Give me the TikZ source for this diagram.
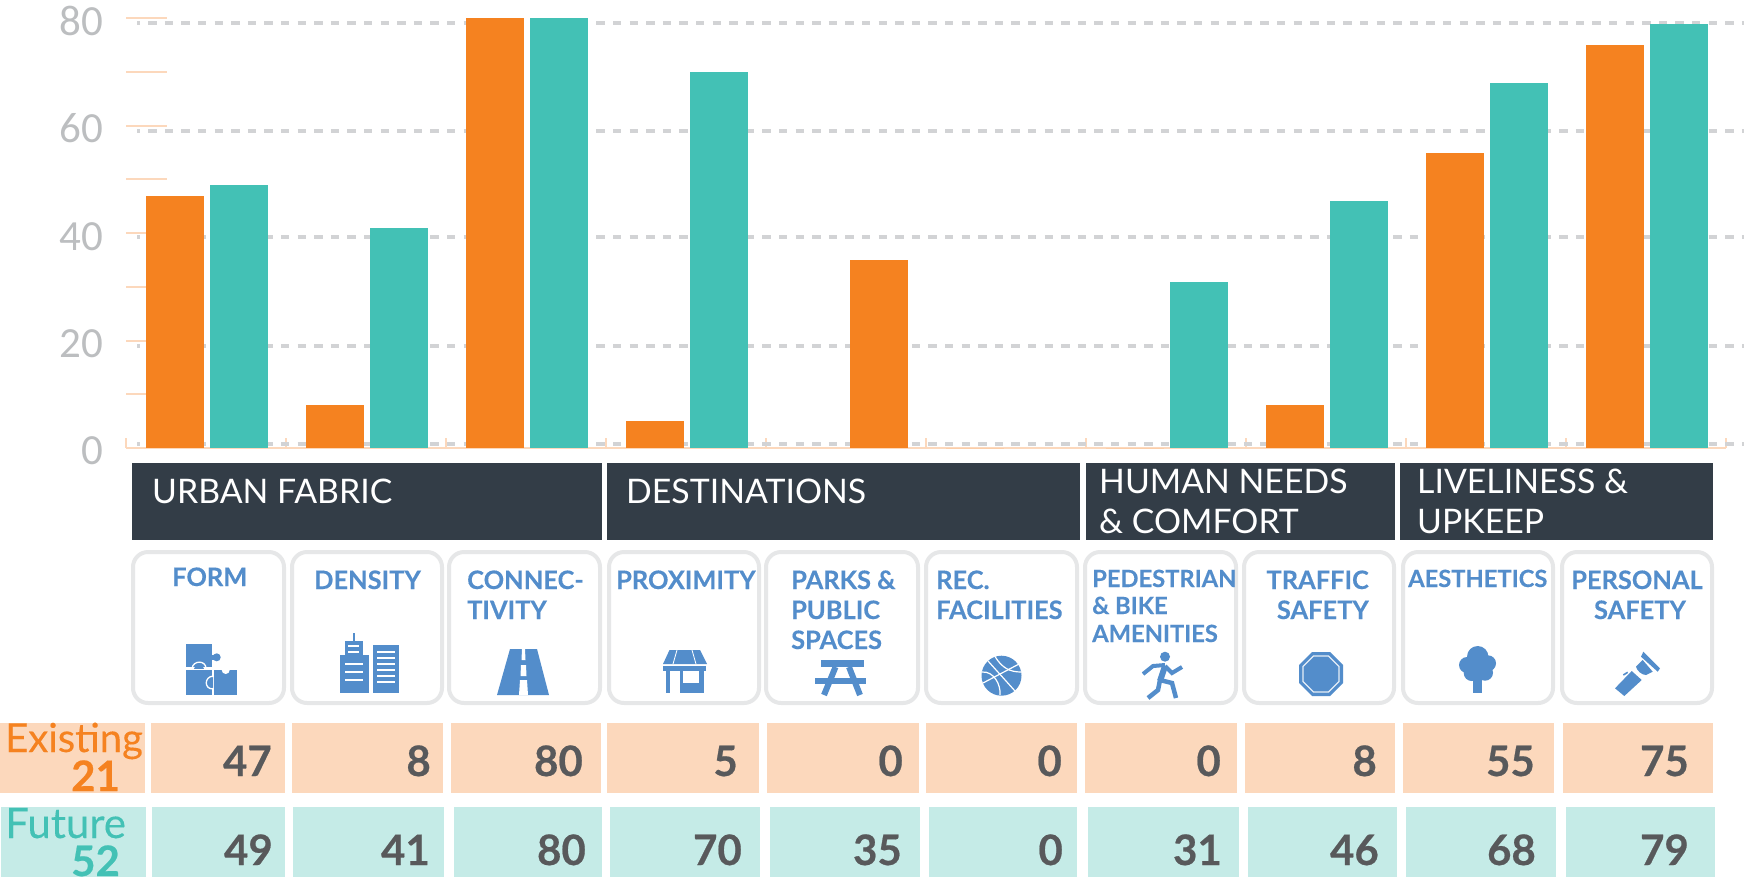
\documentclass[tikz,border=0pt]{standalone}
\usepackage{fontspec}
\setmainfont{Lato}
\newfontfamily\axisfont{Carlito}
\newfontfamily\heavyfont[UprightFont=* Bold,FakeBold=0.5]{Lato}
\newfontfamily\semifont[UprightFont=* Bold,FakeBold=0.25]{Lato}
\newfontfamily\midfont[FakeBold=0.2]{Lato}
\definecolor{orangebar}{HTML}{F58220}
\definecolor{tealbar}{HTML}{43C1B5}
\definecolor{orangepale}{HTML}{FCD8BC}
\definecolor{tealpale}{HTML}{C5EBE7}
\definecolor{gridgray}{HTML}{D2D3D5}
\definecolor{axisgray}{HTML}{BCBEC0}
\definecolor{darkhead}{HTML}{333D47}
\definecolor{cardline}{HTML}{E6E7E8}
\definecolor{iconblue}{HTML}{538DCB}
\definecolor{numgray}{HTML}{58595B}
\newcommand{\fsz}[1]{\fontsize{#1}{#1}\selectfont}
\tikzset{
  gridline/.style={gridgray,line width=4pt,dash pattern=on 8.4pt off 8.2pt,dash phase=5.4pt},
  paletick/.style={orangepale,line width=1.2pt},
  axislabel/.style={anchor=base east,inner sep=0pt,text=axisgray,font=\axisfont\fsz{43}},
  headbox/.style={fill=darkhead},
  headtext/.style={anchor=base west,inner sep=0pt,text=white,font=\fsz{33.8}},
  cardbox/.style={draw=cardline,line width=4pt,rounded corners=15pt,fill=white},
  cardtext/.style={anchor=base west,inner sep=0pt,text=iconblue,font=\semifont\fsz{25.4}},
  cardtextsmall/.style={anchor=base west,inner sep=0pt,text=iconblue,font=\semifont\fsz{23.7}},
  numtext/.style={anchor=base east,inner sep=0pt,text=numgray,font=\heavyfont\fsz{42}},
  icon/.style={fill=iconblue},
  iconline/.style={draw=iconblue,line cap=butt,line join=miter},
  iconcut/.style={draw=white,line width=1.3pt},
}
\begin{document}
\begin{tikzpicture}[x=1pt,y=-1pt]
\useasboundingbox (0,0) rectangle (1744,895);
% pale ticks behind the bars
\foreach \y in {18,72,126,179,233,287,341,394} \draw[paletick] (126,\y) -- (167,\y);
\foreach \i in {0,...,10} \draw[paletick] (126+160*\i,438) -- (126+160*\i,448);
\draw[paletick] (126,448) -- (1726,448);
% grid
\foreach \y in {22.5,131,237,346,444} \draw[gridline] (137,\y) -- (1744,\y);
% axis labels
\node[axislabel] (a80) at (103,35) {80};
\node[axislabel] (a60) at (103,142) {60};
\node[axislabel] (a40) at (103,250) {40};
\node[axislabel] (a20) at (103,357) {20};
\node[axislabel] (a0) at (103,464) {0};
% bars: column index / value
\foreach \i/\v in {0/47,1/8,2/80,3/5,5/0,6/0,7/8,8/55,9/75}
  \fill[orangebar] (146+160*\i,448) rectangle (204+160*\i,448-5.37*\v);
\fill[orangebar] (850,448) rectangle (908,448-5.37*35);
\foreach \i/\v in {0/49,1/41,2/80,3/70,6/31,7/46,8/68,9/79}
  \fill[tealbar] (210+160*\i,448) rectangle (268+160*\i,448-5.37*\v);
% headers
\fill[headbox] (132,463) rectangle (602,540);
\fill[headbox] (607,463) rectangle (1080,540);
\fill[headbox] (1086,463) rectangle (1395,540);
\fill[headbox] (1400,463) rectangle (1713,540);
\node[headtext] (h1) at (152,503) {URBAN FABRIC};
\node[headtext] (h2) at (626,503) {DESTINATIONS};
\node[headtext] (h3a) at (1099,493) {HUMAN NEEDS};
\node[headtext] (h3b) at (1099,533) {\& COMFORT};
\node[headtext] (h4a) at (1417,493) {LIVELINESS \&};
\node[headtext] (h4b) at (1417,533) {UPKEEP};
% cards
\foreach \a/\b in {133/284,292/442,449/600,609/759,766/918,926/1077,1085/1236,1244/1394,1403/1553,1562/1712}
  \draw[cardbox] (\a,552) rectangle (\b,703);
\node[cardtext] (c1) at (172,586) {FORM};
\node[cardtext] (c2) at (314,589) {DENSITY};
\node[cardtext] (c3a) at (467,589) {CONNEC-};
\node[cardtext] (c3b) at (467,619) {TIVITY};
\node[cardtext] (c4) at (616,589) {PROXIMITY};
\node[cardtext] (c5a) at (791,589) {PARKS \&};
\node[cardtext] (c5b) at (791,619) {PUBLIC};
\node[cardtext] (c5c) at (791,649) {SPACES};
\node[cardtext] (c6a) at (936,589) {REC.};
\node[cardtext] (c6b) at (936,619) {FACILITIES};
\node[cardtextsmall] (c7a) at (1092,587) {PEDESTRIAN};
\node[cardtextsmall] (c7b) at (1092,614) {\& BIKE};
\node[cardtextsmall] (c7c) at (1092,642) {AMENITIES};
\node[cardtext,anchor=base east] (c8a) at (1369,589) {TRAFFIC};
\node[cardtext,anchor=base east] (c8b) at (1369,619) {SAFETY};
\node[cardtextsmall] (c9) at (1408,587) {AESTHETICS};
\node[cardtext,anchor=base] (c10a) at (1637,589) {PERSONAL};
\node[cardtext,anchor=base] (c10b) at (1640,619) {SAFETY};
% puzzle icon
\fill[icon] (186,644) rectangle (212.3,667);
\fill[icon] (216.7,657.3) circle (4);
\fill[icon] (212,654.5) rectangle (216,660);
\fill[icon] (186,670) rectangle (212,695);
\fill[icon] (214,670) rectangle (237,695);
\draw[iconcut] (192,668.5) .. controls (193,660) and (206,660) .. (206,668.5);
\fill[icon] (194,669) .. controls (194,663) and (204,663) .. (204,669) -- cycle;
\fill[white] (225.7,670) circle (4);
\draw[iconcut] (213,676) .. controls (204,677) and (204,689) .. (213,689);
\fill[icon] (213,677) .. controls (207,678) and (207,688) .. (213,688) -- cycle;
% buildings icon
\fill[icon] (340,655) rectangle (369,693);
\fill[icon] (345.3,641) rectangle (363,655);
\fill[icon] (353.2,633) rectangle (354.8,641);
\fill[icon] (373,645) rectangle (399,693);
\foreach \y in {663.7,671.7,679.7} \draw[white,line width=1.6pt] (345,\y) -- (363,\y);
\foreach \y in {646,651.7} \draw[white,line width=1.6pt] (348,\y) -- (359,\y);
\foreach \y in {651.7,657.7,663.7,669.7,675.7,681.7} \draw[white,line width=1.6pt] (377,\y) -- (395,\y);
% road icon
\fill[icon] (510,649) -- (537,649) -- (549,695) -- (497,695) -- cycle;
\fill[white] (522,649) -- (525,649) -- (525.5,660) -- (521.5,660) -- cycle;
\fill[white] (521,665) -- (526,665) -- (526.5,676) -- (520.5,676) -- cycle;
\fill[white] (520,680) -- (527,680) -- (528,695) -- (519,695) -- cycle;
% shop icon
\fill[icon] (669.5,650) -- (700,650) -- (707,664) -- (663,664) -- cycle;
\draw[white,line width=.8pt] (677,650) -- (673,664);
\draw[white,line width=.8pt] (692,650) -- (696,664);
\fill[icon] (663,666) rectangle (706,670.7);
\fill[icon] (666.4,670) rectangle (669.5,693);
\fill[icon] (680,670) rectangle (704,693);
\fill[white] (682.5,671) rectangle (699,683);
% picnic table icon
\fill[icon] (821,660) rectangle (864,667);
\fill[icon] (815,678) rectangle (866,684);
\draw[iconline,line width=6pt] (835.5,667) -- (824,695);
\draw[iconline,line width=6pt] (849,667) -- (860,695);
% basketball icon
\fill[icon] (1001.5,675.7) circle (20);
\draw[white,line width=1.2pt] (988,661) -- (1015,691);
\draw[white,line width=1.2pt] (983,683) -- (1019,664);
\draw[white,line width=1.2pt] (995,656.5) .. controls (1002,668) and (1010,672) .. (1021,672);
\draw[white,line width=1.2pt] (982,672) .. controls (994,671) and (1001,685) .. (1000,695);
% runner icon
\fill[icon] (1165,656.7) circle (5);
\draw[iconline,line width=6pt] (1165,666) -- (1160,681);
\draw[iconline,line width=4pt] (1165,665) -- (1153,666) -- (1143,674);
\draw[iconline,line width=4pt] (1165,666) -- (1172,673) -- (1182,667);
\draw[iconline,line width=4.5pt] (1160,680) -- (1172,683) -- (1176,698);
\draw[iconline,line width=4.5pt] (1160,680) -- (1158,690) -- (1148,698);
% octagon icon
\fill[icon] (1312,652) -- (1330,652) -- (1343,665) -- (1343,683) -- (1330,696) -- (1312,696) -- (1299,683) -- (1299,665) -- cycle;
\draw[white!85!iconblue,line width=1.3pt] (1313.5,656) -- (1328.5,656) -- (1339,666.5) -- (1339,681.5) -- (1328.5,692) -- (1313.5,692) -- (1303,681.5) -- (1303,666.5) -- cycle;
% tree icon
\fill[icon] (1473,676) rectangle (1482,693);
\fill[icon] (1477.7,656.7) circle (10.7);
\fill[icon] (1467,665) circle (8);
\fill[icon] (1488,663.3) circle (8);
\fill[icon] (1471.7,673) circle (8);
\fill[icon] (1485,672.7) circle (8);
\fill[icon] (1477,666) circle (9);
% flashlight icon
\fill[icon] (1615,688.3) -- (1631.7,671) -- (1641.7,680) -- (1624.3,696) -- cycle;
\fill[icon] (1636,666.7) -- (1642.7,660) -- (1652.7,671.7) -- (1646,675) .. controls (1642,675) and (1637,671) .. (1636,666.7) -- cycle;
\fill[icon] (1643.3,651.7) -- (1660,668.3) -- (1657.7,671.7) -- (1641,656.7) -- cycle;
\draw[iconline,line width=1.6pt] (1623.3,675) -- (1627.7,672.3);
% table row: existing
\foreach \a/\b in {0/145,151/285,292/443,451/601,607/759,767/919,926/1077,1085/1237,1245/1395,1403/1554,1563/1713}
  \fill[orangepale] (\a,723) rectangle (\b,793);
\foreach \a/\b in {1/146,152/285,293/444,454/602,610/760,770/920,929/1077,1088/1239,1248/1397,1406/1556,1566/1715}
  \fill[tealpale] (\a,807) rectangle (\b,877);
\node[anchor=base west,inner sep=0pt,text=orangebar,font=\midfont\fsz{40}] (ex) at (5,752) {Existing};
\node[anchor=base west,inner sep=0pt,text=orangebar,font=\heavyfont\fsz{42}] (ext) at (71,791) {21};
\node[anchor=base west,inner sep=0pt,text=tealbar,font=\midfont\fsz{42}] (fu) at (5,838) {Future};
\node[anchor=base west,inner sep=0pt,text=tealbar,font=\heavyfont\fsz{42}] (fut) at (71,876) {52};
\foreach \n/\x/\v in {1/272/47,2/431/8,3/583/80,4/738/5,5/903/0,6/1062/0,7/1221/0,8/1377/8,9/1535/55,10/1689/75}
  \node[numtext] (e\n) at (\x,776) {\v};
\foreach \n/\x/\v in {1/273/49,2/430/41,3/586/80,4/742/70,5/902/35,6/1063/0,7/1222/31,8/1379/46,9/1536/68,10/1689/79}
  \node[numtext] (f\n) at (\x,865) {\v};
\end{tikzpicture}
\end{document}
